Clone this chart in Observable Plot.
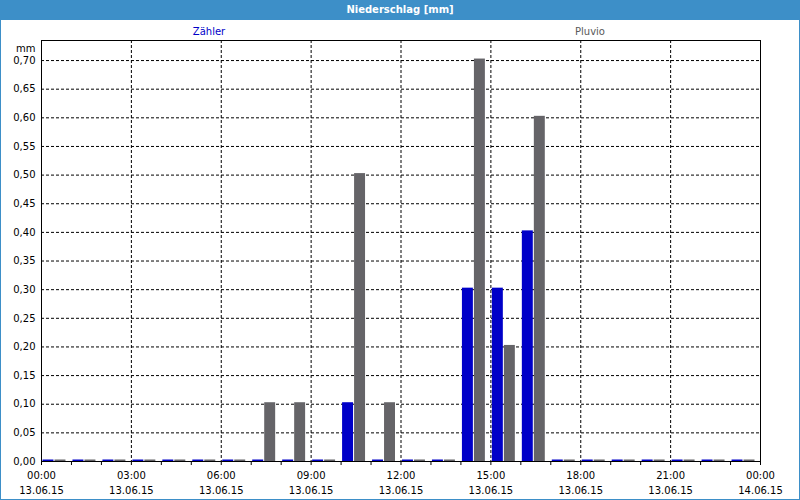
<!DOCTYPE html>
<html><head><meta charset="utf-8">
<script src="https://cdn.jsdelivr.net/npm/d3@7"></script>
<script src="https://cdn.jsdelivr.net/npm/@observablehq/plot@0.6"></script>
<style>
body{margin:0;background:#fff;}
#title{width:800px;height:20px;background:#3d8fc8;color:#fff;font:bold 10px "DejaVu Sans",sans-serif;text-align:center;line-height:20px;}
#wrap{position:relative;width:798px;height:479px;border:1px solid #3d8fc8;border-top:none;background:#fff;}
.leg{position:absolute;top:11px;transform:translate(-50%,-50%);font:10px "DejaVu Sans",sans-serif;white-space:nowrap;}
#wrap svg{display:block;}
</style></head>
<body>
<div id="title">Niederschlag [mm]</div>
<div id="wrap">
  <span class="leg" style="left:208px;color:#0000c8">Zähler</span>
  <span class="leg" style="left:589px;color:#5a5a5a">Pluvio</span>
</div>
<script>
// Hourly precipitation, 13.06.15 (hour start)
const hours   = [0,1,2,3,4,5,6,7,8,9,10,11,12,13,14,15,16,17,18,19,20,21,22,23];
const zaehler = [0,0,0,0,0,0,0,0,0,0,0.10,0,0,0,0.30,0.30,0.40,0,0,0,0,0,0,0];
const pluvio  = [0,0,0,0,0,0,0,0.10,0.10,0,0.50,0.10,0,0,0.70,0.20,0.60,0,0,0,0,0,0,0];
const seriesNames = ["Zähler","Pluvio"];

const yTicks      = [0,0.05,0.10,0.15,0.20,0.25,0.30,0.35,0.40,0.45,0.50,0.55,0.60,0.65,0.70];
const yTickLabels = ["0,00","0,05","0,10","0,15","0,20","0,25","0,30","0,35","0,40","0,45","0,50","0,55","0,60","0,65","0,70"];
const xTickHours  = [0,3,6,9,12,15,18,21,24];
const xTickLabels = ["00:00\n13.06.15","03:00\n13.06.15","06:00\n13.06.15","09:00\n13.06.15","12:00\n13.06.15","15:00\n13.06.15","18:00\n13.06.15","21:00\n13.06.15","00:00\n14.06.15"];

const T = h => new Date(Date.UTC(2015,5,13,h));
const data = hours.map((h,i)=>({start:T(h), end:T(h+1), z:zaehler[i], p:pluvio[i]}));
const xTickDates = xTickHours.map(T);
const xLabelMap = new Map(xTickDates.map((d,i)=>[+d, xTickLabels[i]]));
const yLabelMap = new Map(yTicks.map((v,i)=>[v.toFixed(2), yTickLabels[i]]));
const hourTicks = hours.map(T).concat([T(24)]);

const blue = "#0000c8", gray = "#656468";
const dash = {stroke:"#000", strokeOpacity:1, strokeDasharray:"3,2"};

const chart = Plot.plot({
  width: 798, height: 479,
  marginLeft: 40, marginRight: 39, marginTop: 20, marginBottom: 38,
  style: {fontFamily: "DejaVu Sans, sans-serif", fontSize: "10px", color: "#000", background: "#fff"},
  x: {type: "utc", domain: [T(0), T(24)], label: null},
  y: {domain: [0, 0.735], label: null},
  marks: [
    Plot.gridY(yTicks.filter(v => v > 0), dash),
    Plot.gridX(xTickDates.slice(1, -1), dash),
    Plot.rectY(data, {x1:"start", x2:"end", y1:0, y2:"z", fill: blue, insetLeft:1.5, insetRight:17.5, insetTop:-1.5}),
    Plot.rectY(data, {x1:"start", x2:"end", y1:0, y2:"p", fill: gray, insetLeft:13.5, insetRight:5.5, insetTop:-1.5}),
    Plot.axisX(hourTicks, {tickSize:4, tickFormat: () => "", label:null}),
    Plot.axisX(xTickDates, {tickSize:0, tickPadding:7, lineHeight:1.5, tickFormat: d => xLabelMap.get(+d), label:null}),
    Plot.axisY(yTicks, {tickSize:0, tickPadding:6, tickFormat: v => yLabelMap.get(v.toFixed(2)), label:null}),
    Plot.text(["mm"], {frameAnchor:"top-left", dx:-6, dy:4, textAnchor:"end"}),
    Plot.frame({stroke:"#000"})
  ]
});
document.getElementById("wrap").appendChild(chart);
</script>
</body></html>
